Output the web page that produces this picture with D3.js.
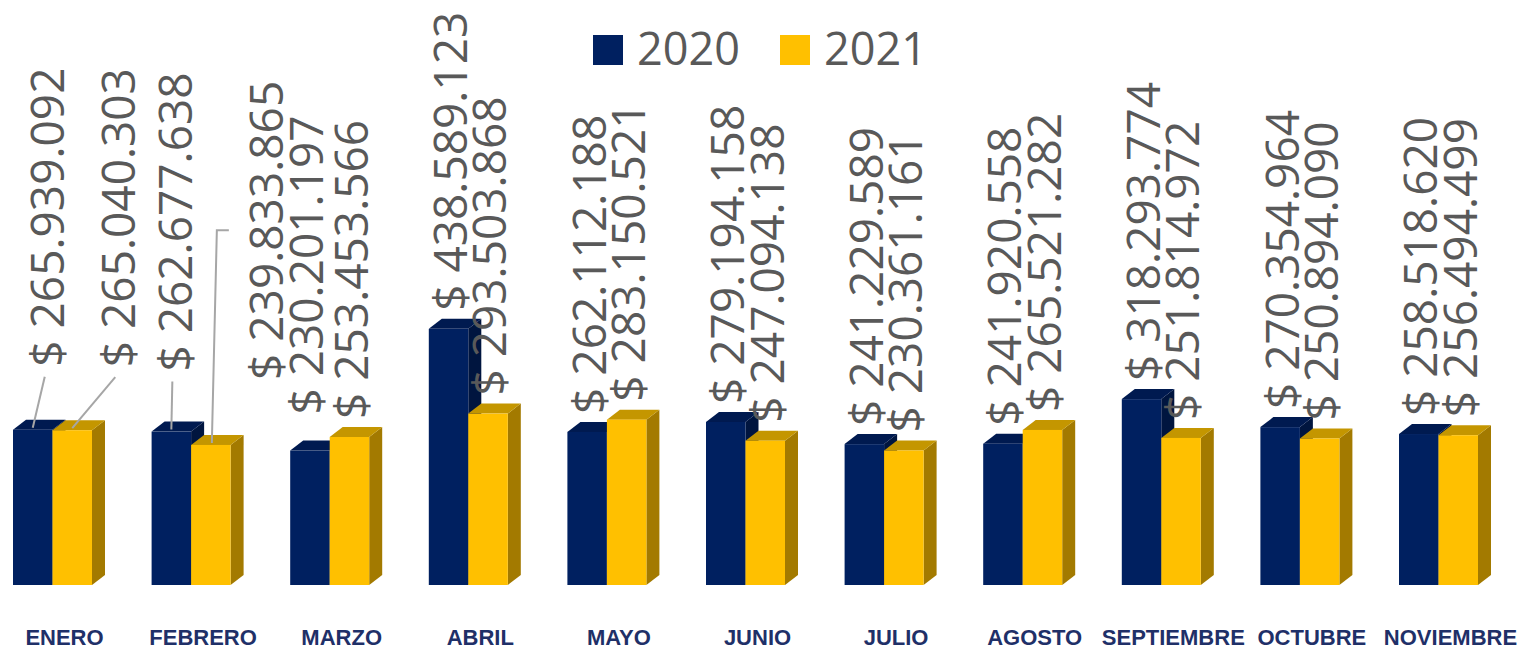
<!DOCTYPE html>
<html>
<head>
  <meta charset="utf-8" />
  <title>2020 vs 2021</title>
  <script src="https://cdn.jsdelivr.net/npm/d3@7/dist/d3.min.js"></script>
  <style>
    body { margin: 0; background: #fff; }
    svg { display: block; }
  </style>
</head>
<body>
  <div id="viz"></div>
  <script>
    // data
    const months = ['ENERO', 'FEBRERO', 'MARZO', 'ABRIL', 'MAYO', 'JUNIO', 'JULIO', 'AGOSTO', 'SEPTIEMBRE', 'OCTUBRE', 'NOVIEMBRE']
    const seriesNames = ['2020', '2021']
    const values2020 = [265939092, 262677638, 230201197, 438589123, 262112188, 279194158, 241229589, 241920558, 318293774, 270354964, 258518620]
    const values2021 = [265040303, 239833865, 253453566, 293503868, 283150521, 247094138, 230361161, 265521282, 251814972, 250894090, 256494499]

    const W = 1539, H = 650
    const depthX = 13, depthY = -10
    const colors = {
      '2020': { front: '#002060', top: '#001a50', side: '#00153f' },
      '2021': { front: '#ffc000', top: '#c49600', side: '#a37a00' }
    }

    // labels that were dragged by hand in the original
    const labelMoves = {
      'ENERO|2020': { dx: 13, dy: -45, leader: 'line' },
      'ENERO|2021': { dx: 44, dy: -45, leader: 'line' },
      'FEBRERO|2020': { dx: 2, dy: -42, leader: 'line' },
      'FEBRERO|2021': { dx: 54, dy: -47, leader: 'elbow' },
      'MARZO|2020': { dx: -5, dy: -18 }
    }

    const rows = months.map((m, i) => ({ month: m, '2020': values2020[i], '2021': values2021[i] }))

    const svg = d3.select('#viz').append('svg').attr('width', W).attr('height', H)

    const x0 = d3.scaleBand().domain(months).range([13, 1478]).paddingInner(0.43).paddingOuter(0)
    const x1 = d3.scaleBand().domain(seriesNames).range([0, x0.bandwidth()])
    const y = d3.scaleLinear().domain([0, 500000000]).range([585, 293])

    const fmt = v => '$ ' + d3.format(',')(v).replace(/,/g, '.')

    const bars = svg.append('g')
    rows.forEach(r => {
      seriesNames.forEach(s => {
        const xl = x0(r.month) + x1(s), w = x1.bandwidth()
        const yt = y(r[s]), yb = y(0)
        const c = colors[s]
        const g = bars.append('g')
        g.append('path')
          .attr('d', `M${xl + w},${yb} L${xl + w + depthX},${yb + depthY} L${xl + w + depthX},${yt + depthY} L${xl + w},${yt} Z`)
          .attr('fill', c.side)
        g.append('path')
          .attr('d', `M${xl},${yt} L${xl + depthX},${yt + depthY} L${xl + w + depthX},${yt + depthY} L${xl + w},${yt} Z`)
          .attr('fill', c.top)
        g.append('rect')
          .attr('x', xl).attr('y', yt).attr('width', w).attr('height', yb - yt)
          .attr('fill', c.front)
      })
    })

    // data labels
    const fs = 46
    const labels = svg.append('g')
    rows.forEach(r => {
      seriesNames.forEach(s => {
        const cx = x0(r.month) + x1(s) + x1.bandwidth() / 2
        const yt = y(r[s])
        const mv = labelMoves[r.month + '|' + s] || { dx: 0, dy: 0 }
        const lx = cx + 2 + mv.dx
        const ly = yt - 18 + mv.dy
        const t = labels.append('text')
          .attr('transform', `translate(${lx + fs * 0.357},${ly}) rotate(-90)`)
          .attr('font-family', '"Open Sans", sans-serif')
          .attr('font-size', fs)
          .attr('fill', '#595959')
          .text(fmt(r[s]))
        if (mv.leader === 'line') {
          labels.append('line')
            .attr('x1', cx).attr('y1', yt - 2)
            .attr('x2', lx - 3).attr('y2', ly + 10)
            .attr('stroke', '#a6a6a6').attr('stroke-width', 2)
        } else if (mv.leader === 'elbow') {
          const len = t.node().getComputedTextLength()
          const mid = ly - len / 2
          labels.append('path')
            .attr('d', `M${cx + 1},${yt - 2} L${cx + 6},${mid} L${lx - 38},${mid}`)
            .attr('fill', 'none')
            .attr('stroke', '#a6a6a6').attr('stroke-width', 2)
        }
      })
    })

    // category labels
    svg.append('g').selectAll('text')
      .data(months)
      .join('text')
      .attr('x', d => x0(d) + x0.bandwidth() / 2 + 12)
      .attr('y', 645)
      .attr('text-anchor', 'middle')
      .attr('font-family', '"Liberation Sans", Arial, sans-serif')
      .attr('font-weight', 'bold')
      .attr('font-size', 22)
      .attr('fill', '#1f3068')
      .text(d => d)

    // legend
    const legend = svg.append('g')
    const legendX = [593, 780]
    seriesNames.forEach((s, i) => {
      legend.append('rect')
        .attr('x', legendX[i]).attr('y', 35).attr('width', 30).attr('height', 30)
        .attr('fill', colors[s].front)
      legend.append('text')
        .attr('x', legendX[i] + 44).attr('y', 65)
        .attr('font-family', '"Open Sans", sans-serif')
        .attr('font-size', 45)
        .attr('fill', '#595959')
        .text(s)
    })
  </script>
</body>
</html>
